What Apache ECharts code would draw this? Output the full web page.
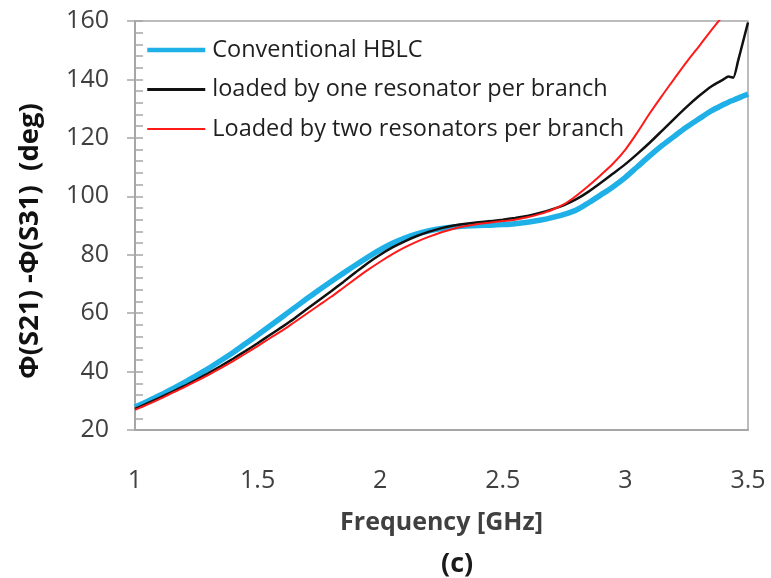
<!DOCTYPE html>
<html>
<head>
<meta charset="utf-8">
<script src="https://cdn.jsdelivr.net/npm/echarts@6/dist/echarts.min.js"></script>
<style>
  html, body { margin: 0; padding: 0; background: #fff; }
  #chart { width: 771px; height: 578px; }
</style>
</head>
<body>
<div id="chart"></div>
<script>
// Frequency samples (GHz)
const freq = [
  1.00, 1.05, 1.10, 1.15, 1.20, 1.25, 1.30, 1.35, 1.40, 1.45,
  1.50, 1.55, 1.60, 1.65, 1.70, 1.75, 1.80, 1.85, 1.90, 1.95,
  2.00, 2.05, 2.10, 2.15, 2.20, 2.25, 2.30, 2.35, 2.40, 2.45,
  2.50, 2.55, 2.60, 2.65, 2.70, 2.75, 2.80, 2.85, 2.90, 2.95,
  3.00, 3.05, 3.10, 3.15, 3.20, 3.25, 3.30, 3.35, 3.40,
  3.42, 3.44, 3.46, 3.48, 3.50
];

// Phase difference (deg), conventional hybrid coupler
const conventional = [
  27.9, 29.8, 31.8, 34.0, 36.2, 38.6, 41.1, 43.8, 46.5, 49.5,
  52.5, 55.6, 58.7, 61.8, 64.9, 67.9, 70.8, 73.7, 76.5, 79.2,
  81.7, 83.9, 85.7, 87.1, 88.2, 89.0, 89.5, 89.8, 90.0, 90.1,
  90.3, 90.6, 91.1, 91.8, 92.7, 93.8, 95.3, 97.8, 100.5, 103.3,
  106.5, 110.2, 113.9, 117.4, 120.6, 123.7, 126.5, 129.2, 131.4,
  132.2, 132.9, 133.6, 134.3, 135.0
];

// Phase difference (deg), one resonator per branch
const oneResonator = [
  27.2, 29.1, 31.0, 33.0, 35.0, 37.2, 39.5, 41.9, 44.4, 47.0,
  49.7, 52.5, 55.3, 58.2, 61.3, 64.4, 67.5, 70.7, 74.0, 77.2,
  80.0, 82.5, 84.6, 86.4, 87.9, 89.1, 90.0, 90.6, 91.1, 91.5,
  92.0, 92.6, 93.3, 94.3, 95.5, 97.0, 99.0, 101.6, 104.6, 107.8,
  111.0, 114.6, 118.4, 122.5, 126.6, 130.6, 134.3, 137.6, 140.0,
  141.0, 140.6, 146.5, 153.0, 159.5
];

// Phase difference (deg), two resonators per branch
const twoResonators = [
  26.9, 28.7, 30.6, 32.6, 34.6, 36.7, 38.9, 41.2, 43.6, 46.1,
  48.7, 51.4, 54.0, 56.9, 59.8, 62.7, 65.6, 68.7, 71.8, 74.8,
  77.6, 80.2, 82.5, 84.5, 86.2, 87.7, 88.9, 89.8, 90.5, 91.0,
  91.5, 92.0, 92.8, 93.9, 95.3, 97.3, 100.2, 103.6, 107.3, 111.2,
  116.0, 122.0, 128.5, 134.5, 140.3, 146.0, 151.3, 156.8, 162.0,
  null, null, null, null, null
];

const seriesNames = [
  'Conventional HBLC',
  'loaded by one resonator per branch',
  'Loaded by two resonators per branch'
];

const xTicks = { min: 1, max: 3.5, step: 0.5 };
const yTicks = { min: 20, max: 160, step: 20, minorStep: 4 };

const pairs = vals => freq.map((f, i) => [f, vals[i]]);

const FONT = '"Open Sans", "Liberation Sans", sans-serif';
const TXT = '#404040';
const AXIS = '#a6a6a6';
const COLORS = ['#1fb0e8', '#111111', '#ff1a1a'];

const chart = echarts.init(document.getElementById('chart'), null, { renderer: 'canvas' });

chart.setOption({
  animation: false,
  backgroundColor: '#ffffff',
  textStyle: { fontFamily: FONT },
  grid: {
    left: 135, right: 23, top: 21, bottom: 148,
    show: true, borderColor: AXIS, borderWidth: 1.5, backgroundColor: 'transparent'
  },
  legend: {
    orient: 'vertical',
    left: 145, top: 38, padding: 0,
    itemWidth: 58, itemHeight: 14, itemGap: 15.5,
    itemStyle: { opacity: 0 },
    data: [
      { name: seriesNames[0], lineStyle: { width: 4.5, color: COLORS[0] } },
      { name: seriesNames[1], lineStyle: { width: 3, color: COLORS[1] } },
      { name: seriesNames[2], lineStyle: { width: 2, color: COLORS[2] } }
    ],
    textStyle: { fontFamily: FONT, fontSize: 23.5, color: '#1f1f1f', padding: [0, 0, 0, 2] }
  },
  xAxis: {
    type: 'value',
    min: xTicks.min, max: xTicks.max, interval: xTicks.step,
    name: 'Frequency [GHz]',
    nameLocation: 'middle', nameGap: 80,
    nameTextStyle: { fontFamily: FONT, fontSize: 25, fontWeight: 'bold', color: TXT },
    axisLine: { show: true, lineStyle: { color: AXIS, width: 2 } },
    axisTick: { show: false },
    splitLine: { show: false },
    axisLabel: { margin: 38, fontSize: 25, color: TXT, fontFamily: FONT }
  },
  yAxis: [
    {
      type: 'value',
      min: yTicks.min, max: yTicks.max, interval: yTicks.step,
      axisLine: { show: true, lineStyle: { color: AXIS, width: 2 } },
      axisTick: { show: true, inside: false, length: 8, lineStyle: { color: AXIS, width: 1.5 } },
      splitLine: { show: false },
      axisLabel: { margin: 26, fontSize: 25, color: TXT, fontFamily: FONT }
    },
    {
      type: 'value',
      min: yTicks.min, max: yTicks.max, interval: yTicks.minorStep,
      position: 'left',
      axisLine: { show: false },
      axisTick: { show: true, inside: true, length: 8, lineStyle: { color: AXIS, width: 1.5 } },
      axisLabel: { show: false },
      splitLine: { show: false }
    }
  ],
  series: [
    {
      name: seriesNames[0], type: 'line', data: pairs(conventional),
      symbol: 'none', smooth: 0.3, clip: true,
      lineStyle: { color: COLORS[0], width: 5.5 }, itemStyle: { color: COLORS[0] }
    },
    {
      name: seriesNames[1], type: 'line', data: pairs(oneResonator),
      symbol: 'none', smooth: 0.2, clip: true,
      lineStyle: { color: COLORS[1], width: 2.5 }, itemStyle: { color: COLORS[1] }
    },
    {
      name: seriesNames[2], type: 'line', data: pairs(twoResonators),
      symbol: 'none', smooth: 0.3, clip: true, connectNulls: false,
      lineStyle: { color: COLORS[2], width: 2 }, itemStyle: { color: COLORS[2] }
    }
  ],
  graphic: [
    {
      // y-axis title, rotated to read bottom-up
      type: 'text', x: 30, y: 241, rotation: Math.PI / 2,
      style: {
        text: 'Φ(S21) -Φ(S31)  (deg)', fontFamily: FONT, fontSize: 27.5, fontWeight: 'bold',
        fill: '#111111', align: 'center', verticalAlign: 'middle'
      }
    },
    {
      type: 'text', left: 441, top: 551,
      style: { text: '(c)', fontFamily: FONT, fontSize: 27, fontWeight: 'bold', fill: '#1a1a1a' }
    }
  ]
});
</script>
</body>
</html>
